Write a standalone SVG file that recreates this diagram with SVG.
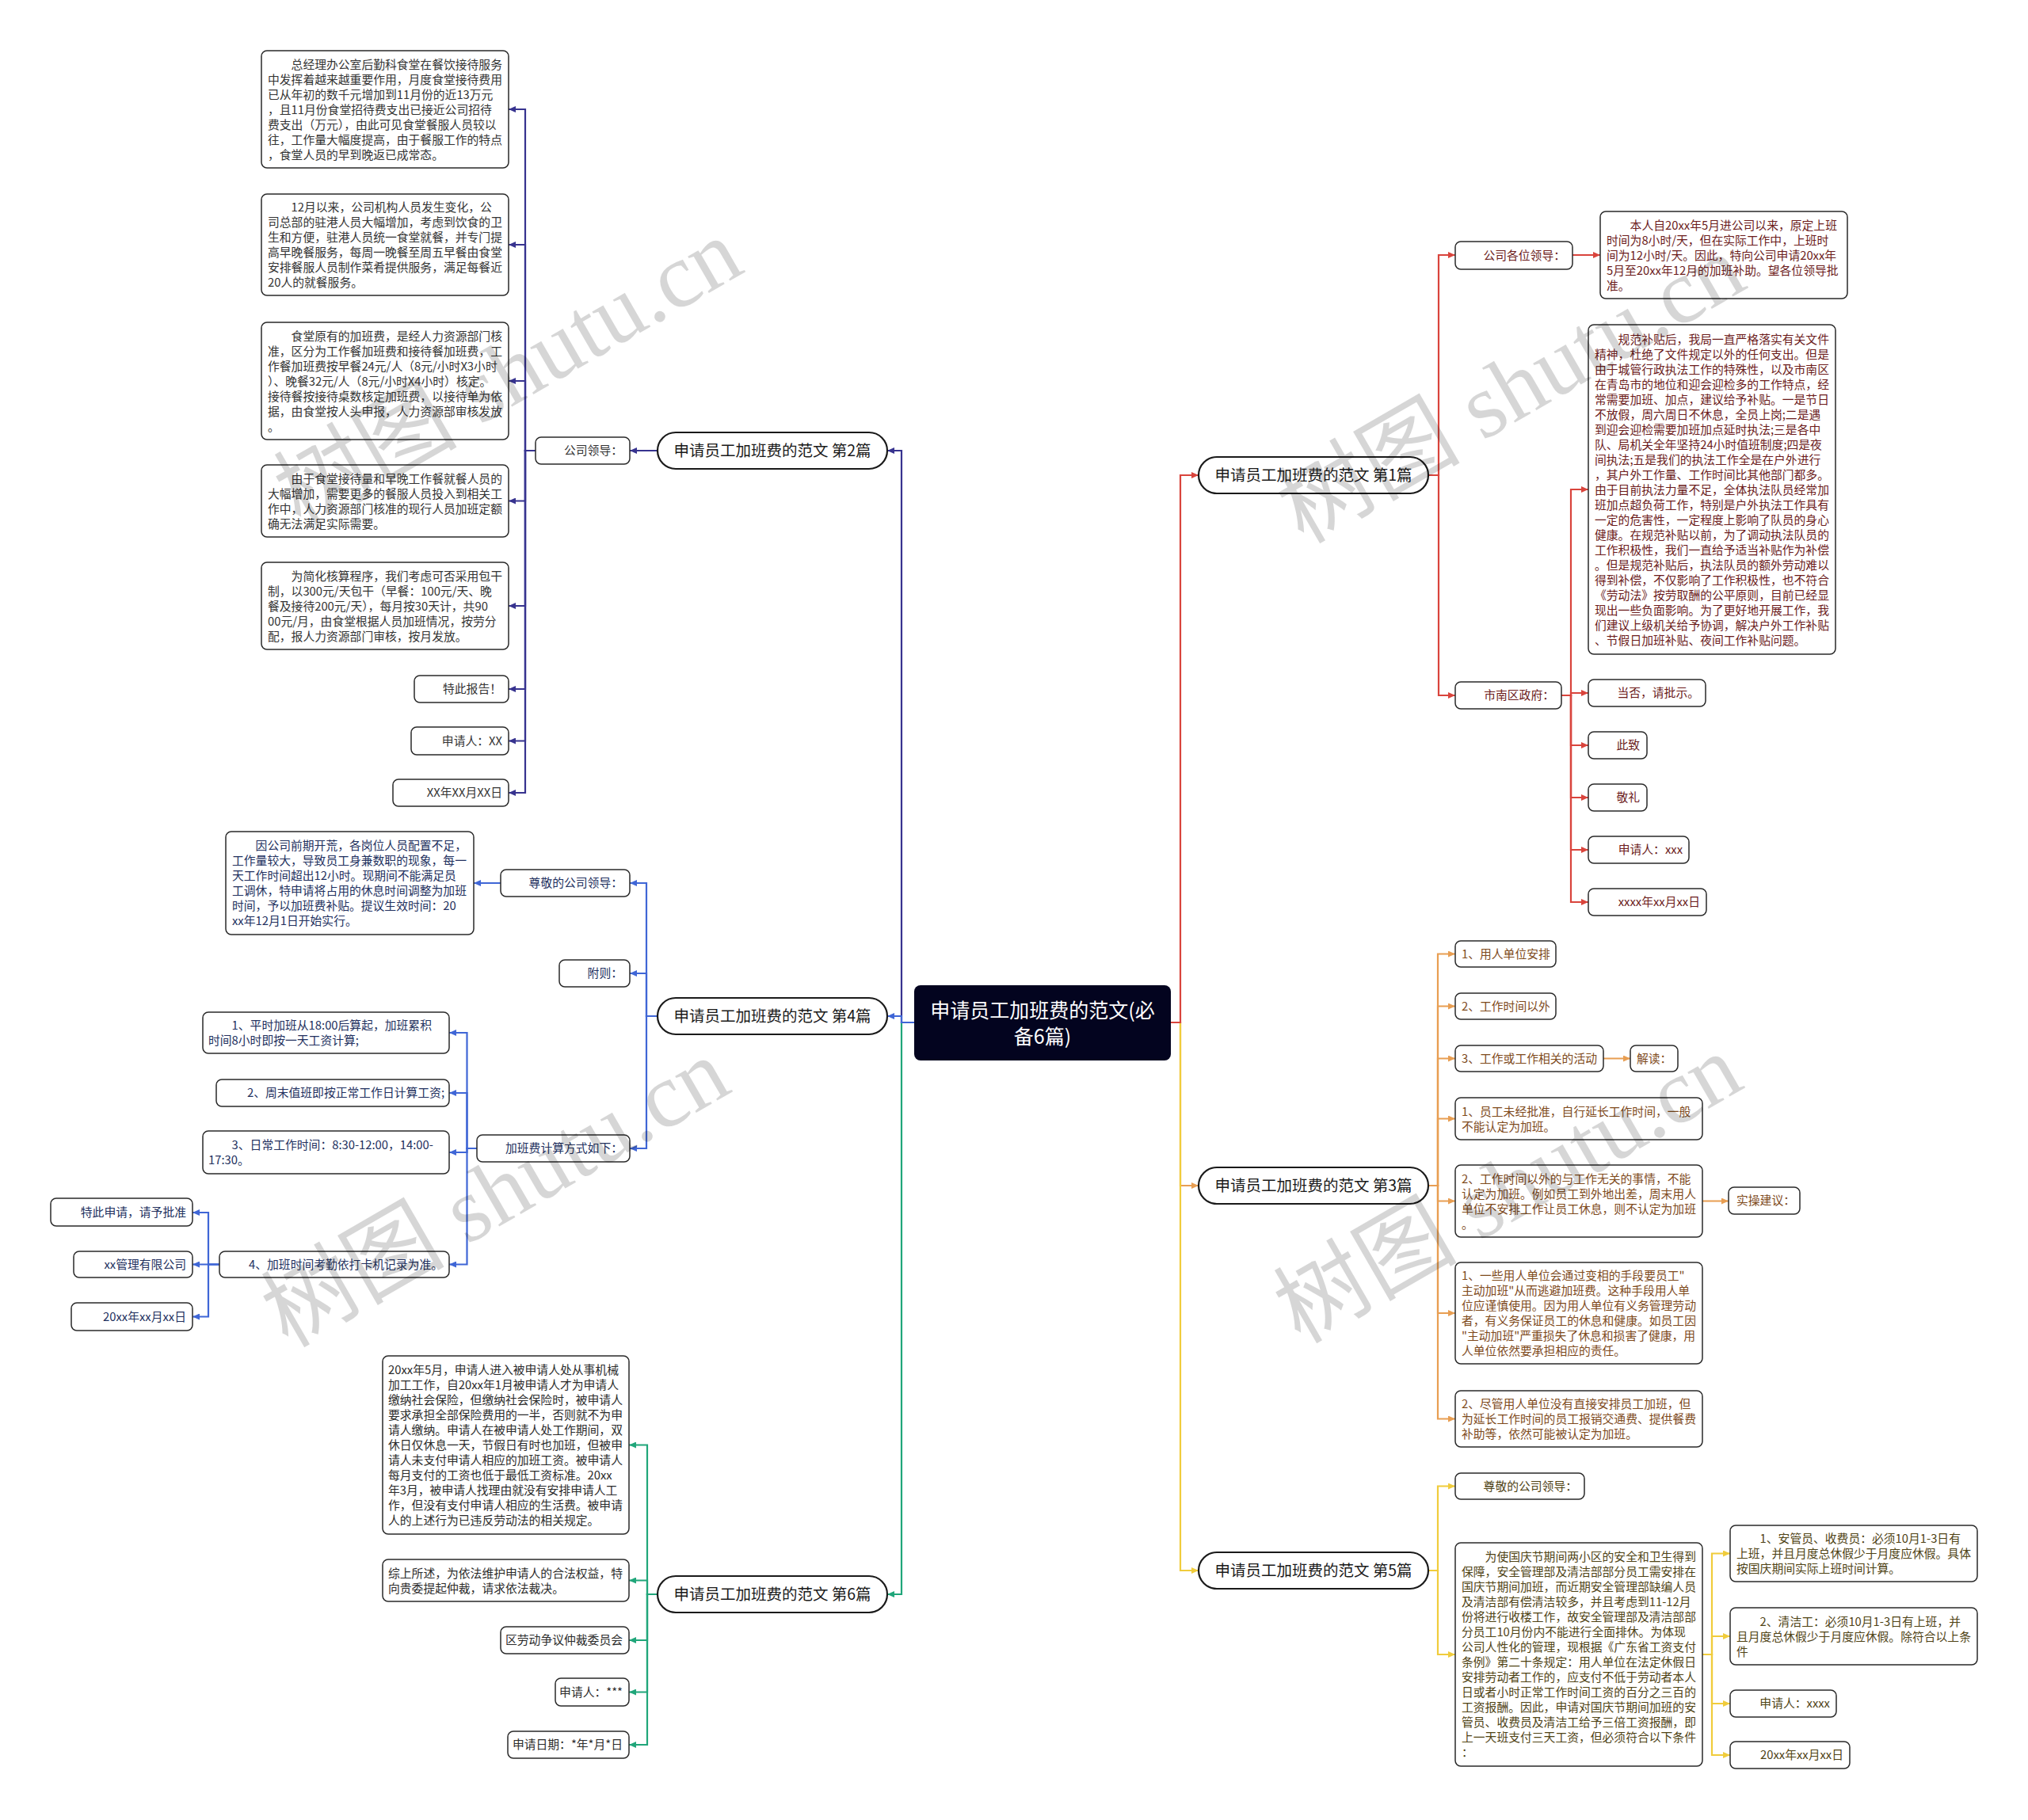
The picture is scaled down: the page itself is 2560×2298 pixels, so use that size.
<svg xmlns="http://www.w3.org/2000/svg" width="2560" height="2298" viewBox="0 0 2560 2298">
<style>
.bg{fill:#ffffff}
.box{fill:#ffffff;stroke:#2a2a2a;stroke-width:1.5}
.br{fill:#ffffff;stroke:#1a1a1a;stroke-width:2.2}
.t{font-family:"Noto Sans CJK SC","Liberation Sans",sans-serif;font-size:14.8px}
.bt{font-family:"Noto Sans CJK SC","Liberation Sans",sans-serif;font-size:19.5px;fill:#1a1a1a;text-anchor:middle}
.rt{font-family:"Noto Sans CJK SC","Liberation Sans",sans-serif;font-size:25px;fill:#ffffff;text-anchor:middle}
.e{text-anchor:end}
.c1{fill:#6b1b1b}.c2{fill:#333333}.c3{fill:#7e4a1c}.c4{fill:#22305e}.c5{fill:#4f4315}.c6{fill:#2b2b2b}
.k{fill:none;stroke-width:2.2}
.k1{stroke:#d9443c}.k2{stroke:#37338f}.k3{stroke:#e89e52}.k4{stroke:#3f66d6}.k5{stroke:#f0cc3c}.k6{stroke:#20a67a}
.wm{font-family:"Liberation Serif","Noto Sans CJK SC",serif;font-size:116px;fill:#000000;fill-opacity:0.16;text-anchor:middle}
</style>
<defs>
<marker id="a1" markerUnits="userSpaceOnUse" markerWidth="9" markerHeight="8" refX="9" refY="4" orient="auto"><path d="M0,0 L9,4 L0,8 z" fill="#d9443c"/></marker>
<marker id="a2" markerUnits="userSpaceOnUse" markerWidth="9" markerHeight="8" refX="9" refY="4" orient="auto"><path d="M0,0 L9,4 L0,8 z" fill="#37338f"/></marker>
<marker id="a3" markerUnits="userSpaceOnUse" markerWidth="9" markerHeight="8" refX="9" refY="4" orient="auto"><path d="M0,0 L9,4 L0,8 z" fill="#e89e52"/></marker>
<marker id="a4" markerUnits="userSpaceOnUse" markerWidth="9" markerHeight="8" refX="9" refY="4" orient="auto"><path d="M0,0 L9,4 L0,8 z" fill="#3f66d6"/></marker>
<marker id="a5" markerUnits="userSpaceOnUse" markerWidth="9" markerHeight="8" refX="9" refY="4" orient="auto"><path d="M0,0 L9,4 L0,8 z" fill="#f0cc3c"/></marker>
<marker id="a6" markerUnits="userSpaceOnUse" markerWidth="9" markerHeight="8" refX="9" refY="4" orient="auto"><path d="M0,0 L9,4 L0,8 z" fill="#20a67a"/></marker>
</defs>
<rect class="bg" x="0" y="0" width="2560" height="2298"/>

<g id="connectors">
<path class="k k3" marker-end="url(#a3)" d="M1478,1291 H1490 V1497 H1513"/>
<path class="k k5" marker-end="url(#a5)" d="M1478,1291 H1490 V1983 H1513"/>
<path class="k k1" marker-end="url(#a1)" d="M1478,1291 H1490 V600 H1513"/>
<path class="k k6" marker-end="url(#a6)" d="M1154,1291 H1138 V2013 H1120"/>
<path class="k k2" marker-end="url(#a2)" d="M1154,1291 H1138 V569 H1120"/>
<path class="k k4" marker-end="url(#a4)" d="M1154,1291 H1138 V1283 H1120"/>
<path class="k k1" marker-end="url(#a1)" d="M1803,600 H1816 V322 H1837"/>
<path class="k k1" marker-end="url(#a1)" d="M1803,600 H1816 V878 H1837"/>
<path class="k k1" marker-end="url(#a1)" d="M1985,322 H2020"/>
<path class="k k1" marker-end="url(#a1)" d="M1971,878 H1983 V618 H2005"/>
<path class="k k1" marker-end="url(#a1)" d="M1971,878 H1983 V875 H2005"/>
<path class="k k1" marker-end="url(#a1)" d="M1971,878 H1983 V941 H2005"/>
<path class="k k1" marker-end="url(#a1)" d="M1971,878 H1983 V1007 H2005"/>
<path class="k k1" marker-end="url(#a1)" d="M1971,878 H1983 V1073 H2005"/>
<path class="k k1" marker-end="url(#a1)" d="M1971,878 H1983 V1139 H2005"/>
<path class="k k3" marker-end="url(#a3)" d="M1803,1497 H1815 V1204.5 H1837"/>
<path class="k k3" marker-end="url(#a3)" d="M1803,1497 H1815 V1270.5 H1837"/>
<path class="k k3" marker-end="url(#a3)" d="M1803,1497 H1815 V1336.5 H1837"/>
<path class="k k3" marker-end="url(#a3)" d="M1803,1497 H1815 V1412.5 H1837"/>
<path class="k k3" marker-end="url(#a3)" d="M1803,1497 H1815 V1516.5 H1837"/>
<path class="k k3" marker-end="url(#a3)" d="M1803,1497 H1815 V1658 H1837"/>
<path class="k k3" marker-end="url(#a3)" d="M1803,1497 H1815 V1791.5 H1837"/>
<path class="k k3" marker-end="url(#a3)" d="M2024,1336.5 H2058"/>
<path class="k k3" marker-end="url(#a3)" d="M2149,1516.5 H2182"/>
<path class="k k5" marker-end="url(#a5)" d="M1803,1983 H1815 V1876.5 H1837"/>
<path class="k k5" marker-end="url(#a5)" d="M1803,1983 H1815 V2089 H1837"/>
<path class="k k5" marker-end="url(#a5)" d="M2149,2089 H2161 V1961.5 H2184"/>
<path class="k k5" marker-end="url(#a5)" d="M2149,2089 H2161 V2066 H2184"/>
<path class="k k5" marker-end="url(#a5)" d="M2149,2089 H2161 V2151 H2184"/>
<path class="k k5" marker-end="url(#a5)" d="M2149,2089 H2161 V2216 H2184"/>
<path class="k k2" marker-end="url(#a2)" d="M830,569 H795"/>
<path class="k k2" marker-end="url(#a2)" d="M676,569 H663 V138 H642"/>
<path class="k k2" marker-end="url(#a2)" d="M676,569 H663 V309 H642"/>
<path class="k k2" marker-end="url(#a2)" d="M676,569 H663 V481 H642"/>
<path class="k k2" marker-end="url(#a2)" d="M676,569 H663 V632.5 H642"/>
<path class="k k2" marker-end="url(#a2)" d="M676,569 H663 V765 H642"/>
<path class="k k2" marker-end="url(#a2)" d="M676,569 H663 V870 H642"/>
<path class="k k2" marker-end="url(#a2)" d="M676,569 H663 V935.5 H642"/>
<path class="k k2" marker-end="url(#a2)" d="M676,569 H663 V1001 H642"/>
<path class="k k4" marker-end="url(#a4)" d="M830,1283 H816 V1115 H795"/>
<path class="k k4" marker-end="url(#a4)" d="M830,1283 H816 V1229 H795"/>
<path class="k k4" marker-end="url(#a4)" d="M830,1283 H816 V1450 H795"/>
<path class="k k4" marker-end="url(#a4)" d="M632,1115 H598"/>
<path class="k k4" marker-end="url(#a4)" d="M602,1450 H589.5 V1304 H567"/>
<path class="k k4" marker-end="url(#a4)" d="M602,1450 H589.5 V1380 H567"/>
<path class="k k4" marker-end="url(#a4)" d="M602,1450 H589.5 V1455 H567"/>
<path class="k k4" marker-end="url(#a4)" d="M602,1450 H589.5 V1596.5 H567"/>
<path class="k k4" marker-end="url(#a4)" d="M277,1596.5 H263 V1531 H243"/>
<path class="k k4" marker-end="url(#a4)" d="M277,1596.5 H263 V1596.5 H243"/>
<path class="k k4" marker-end="url(#a4)" d="M277,1596.5 H263 V1662.5 H243"/>
<path class="k k6" marker-end="url(#a6)" d="M830,2013 H817 V1824.5 H794"/>
<path class="k k6" marker-end="url(#a6)" d="M830,2013 H817 V1995.5 H794"/>
<path class="k k6" marker-end="url(#a6)" d="M830,2013 H817 V2071 H794"/>
<path class="k k6" marker-end="url(#a6)" d="M830,2013 H817 V2136.5 H794"/>
<path class="k k6" marker-end="url(#a6)" d="M830,2013 H817 V2203 H794"/>
</g>

<g id="root">
<rect x="1154" y="1244" width="324" height="95" rx="8" fill="#03041f"/>
<text class="rt" x="1316" y="1285">申请员工加班费的范文(必</text>
<text class="rt" x="1316" y="1318">备6篇)</text>
</g>

<g id="branch1"><rect class="br" x="1513" y="577" width="290" height="46" rx="23"/><text class="bt" x="1658" y="607">申请员工加班费的范文 第1篇</text></g>
<g id="branch3"><rect class="br" x="1513" y="1474" width="290" height="46" rx="23"/><text class="bt" x="1658" y="1504">申请员工加班费的范文 第3篇</text></g>
<g id="branch5"><rect class="br" x="1513" y="1960" width="290" height="46" rx="23"/><text class="bt" x="1658" y="1990">申请员工加班费的范文 第5篇</text></g>
<g id="branch2"><rect class="br" x="830" y="546" width="290" height="46" rx="23"/><text class="bt" x="975" y="576">申请员工加班费的范文 第2篇</text></g>
<g id="branch4"><rect class="br" x="830" y="1260" width="290" height="46" rx="23"/><text class="bt" x="975" y="1290">申请员工加班费的范文 第4篇</text></g>
<g id="branch6"><rect class="br" x="830" y="1990" width="290" height="46" rx="23"/><text class="bt" x="975" y="2020">申请员工加班费的范文 第6篇</text></g>

<g id="n2-lead"><rect class="box" x="676" y="552" width="119" height="34" rx="7"/><text class="t c2 e" x="786" y="574">公司领导：</text></g>
<g id="n2-1"><rect class="box" x="330" y="64" width="312" height="148" rx="7"/>
<text class="t c2" x="338" y="86.5">　　总经理办公室后勤科食堂在餐饮接待服务</text>
<text class="t c2" x="338" y="105.5">中发挥着越来越重要作用，月度食堂接待费用</text>
<text class="t c2" x="338" y="124.5">已从年初的数千元增加到11月份的近13万元</text>
<text class="t c2" x="338" y="143.5">，且11月份食堂招待费支出已接近公司招待</text>
<text class="t c2" x="338" y="162.5">费支出（万元），由此可见食堂餐服人员较以</text>
<text class="t c2" x="338" y="181.5">往，工作量大幅度提高，由于餐服工作的特点</text>
<text class="t c2" x="338" y="200.5">，食堂人员的早到晚返已成常态。</text></g>
<g id="n2-2"><rect class="box" x="330" y="245" width="312" height="128" rx="7"/>
<text class="t c2" x="338" y="267">　　12月以来，公司机构人员发生变化，公</text>
<text class="t c2" x="338" y="286">司总部的驻港人员大幅增加，考虑到饮食的卫</text>
<text class="t c2" x="338" y="305">生和方便，驻港人员统一食堂就餐，并专门提</text>
<text class="t c2" x="338" y="324">高早晚餐服务，每周一晚餐至周五早餐由食堂</text>
<text class="t c2" x="338" y="343">安排餐服人员制作菜肴提供服务，满足每餐近</text>
<text class="t c2" x="338" y="362">20人的就餐服务。</text></g>
<g id="n2-3"><rect class="box" x="330" y="407" width="312" height="148" rx="7"/>
<text class="t c2" x="338" y="429.5">　　食堂原有的加班费，是经人力资源部门核</text>
<text class="t c2" x="338" y="448.5">准，区分为工作餐加班费和接待餐加班费，工</text>
<text class="t c2" x="338" y="467.5">作餐加班费按早餐24元/人（8元/小时X3小时</text>
<text class="t c2" x="338" y="486.5">）、晚餐32元/人（8元/小时X4小时）核定。</text>
<text class="t c2" x="338" y="505.5">接待餐按接待桌数核定加班费，以接待单为依</text>
<text class="t c2" x="338" y="524.5">据，由食堂按人头申报，人力资源部审核发放</text>
<text class="t c2" x="338" y="543.5">。</text></g>
<g id="n2-4"><rect class="box" x="330" y="587" width="312" height="91" rx="7"/>
<text class="t c2" x="338" y="609.5">　　由于食堂接待量和早晚工作餐就餐人员的</text>
<text class="t c2" x="338" y="628.5">大幅增加，需要更多的餐服人员投入到相关工</text>
<text class="t c2" x="338" y="647.5">作中，人力资源部门核准的现行人员加班定额</text>
<text class="t c2" x="338" y="666.5">确无法满足实际需要。</text></g>
<g id="n2-5"><rect class="box" x="330" y="710" width="312" height="110" rx="7"/>
<text class="t c2" x="338" y="732.5">　　为简化核算程序，我们考虑可否采用包干</text>
<text class="t c2" x="338" y="751.5">制，以300元/天包干（早餐：100元/天、晚</text>
<text class="t c2" x="338" y="770.5">餐及接待200元/天），每月按30天计，共90</text>
<text class="t c2" x="338" y="789.5">00元/月，由食堂根据人员加班情况，按劳分</text>
<text class="t c2" x="338" y="808.5">配，报人力资源部门审核，按月发放。</text></g>
<g id="n2-6"><rect class="box" x="523" y="853" width="119" height="34" rx="7"/><text class="t c2 e" x="633" y="875">特此报告！</text></g>
<g id="n2-7"><rect class="box" x="519" y="918" width="123" height="35" rx="7"/><text class="t c2 e" x="634" y="940.5">申请人：XX</text></g>
<g id="n2-8"><rect class="box" x="496" y="984" width="146" height="34" rx="7"/><text class="t c2 e" x="634" y="1006">XX年XX月XX日</text></g>

<g id="n4-lead"><rect class="box" x="632" y="1098" width="163" height="34" rx="7"/><text class="t c4 e" x="786" y="1120">尊敬的公司领导：</text></g>
<g id="n4-text"><rect class="box" x="285" y="1050" width="313" height="130" rx="7"/>
<text class="t c4" x="293" y="1073">　　因公司前期开荒，各岗位人员配置不足，</text>
<text class="t c4" x="293" y="1092">工作量较大，导致员工身兼数职的现象，每一</text>
<text class="t c4" x="293" y="1111">天工作时间超出12小时。现期间不能满足员</text>
<text class="t c4" x="293" y="1130">工调休，特申请将占用的休息时间调整为加班</text>
<text class="t c4" x="293" y="1149">时间，予以加班费补贴。提议生效时间：20</text>
<text class="t c4" x="293" y="1168">xx年12月1日开始实行。</text></g>
<g id="n4-fz"><rect class="box" x="706" y="1212" width="89" height="34" rx="7"/><text class="t c4 e" x="786" y="1234">附则：</text></g>
<g id="n4-calc"><rect class="box" x="602" y="1433" width="193" height="34" rx="7"/><text class="t c4 e" x="786" y="1455">加班费计算方式如下：</text></g>
<g id="n4-c1"><rect class="box" x="256" y="1278" width="311" height="52" rx="7"/>
<text class="t c4" x="263" y="1300">　　1、平时加班从18:00后算起，加班累积</text>
<text class="t c4" x="263" y="1319">时间8小时即按一天工资计算;</text></g>
<g id="n4-c2"><rect class="box" x="273" y="1363" width="294" height="34" rx="7"/><text class="t c4 e" x="561" y="1385">2、周末值班即按正常工作日计算工资;</text></g>
<g id="n4-c3"><rect class="box" x="256" y="1428" width="311" height="54" rx="7"/>
<text class="t c4" x="263" y="1451">　　3、日常工作时间：8:30-12:00，14:00-</text>
<text class="t c4" x="263" y="1470">17:30。</text></g>
<g id="n4-c4"><rect class="box" x="277" y="1580" width="290" height="33" rx="7"/><text class="t c4 e" x="559" y="1601.5">4、加班时间考勤依打卡机记录为准。</text></g>
<g id="n4-d1"><rect class="box" x="64" y="1513" width="179" height="35" rx="7"/><text class="t c4 e" x="235" y="1536">特此申请，请予批准</text></g>
<g id="n4-d2"><rect class="box" x="93" y="1580" width="150" height="33" rx="7"/><text class="t c4 e" x="235" y="1601.5">xx管理有限公司</text></g>
<g id="n4-d3"><rect class="box" x="90" y="1645" width="153" height="35" rx="7"/><text class="t c4 e" x="235" y="1667.5">20xx年xx月xx日</text></g>

<g id="n6-1"><rect class="box" x="483" y="1712" width="311" height="225" rx="7"/>
<text class="t c6" x="490" y="1735">20xx年5月，申请人进入被申请人处从事机械</text>
<text class="t c6" x="490" y="1754">加工工作，自20xx年1月被申请人才为申请人</text>
<text class="t c6" x="490" y="1773">缴纳社会保险，但缴纳社会保险时，被申请人</text>
<text class="t c6" x="490" y="1792">要求承担全部保险费用的一半，否则就不为申</text>
<text class="t c6" x="490" y="1811">请人缴纳。申请人在被申请人处工作期间，双</text>
<text class="t c6" x="490" y="1830">休日仅休息一天，节假日有时也加班，但被申</text>
<text class="t c6" x="490" y="1849">请人未支付申请人相应的加班工资。被申请人</text>
<text class="t c6" x="490" y="1868">每月支付的工资也低于最低工资标准。20xx</text>
<text class="t c6" x="490" y="1887">年3月，被申请人找理由就没有安排申请人工</text>
<text class="t c6" x="490" y="1906">作，但没有支付申请人相应的生活费。被申请</text>
<text class="t c6" x="490" y="1925">人的上述行为已违反劳动法的相关规定。</text></g>
<g id="n6-2"><rect class="box" x="483" y="1969" width="311" height="53" rx="7"/>
<text class="t c6" x="490" y="1991.5">综上所述，为依法维护申请人的合法权益，特</text>
<text class="t c6" x="490" y="2010.5">向贵委提起仲裁，请求依法裁决。</text></g>
<g id="n6-3"><rect class="box" x="632" y="2054" width="162" height="34" rx="7"/><text class="t c6 e" x="786" y="2076">区劳动争议仲裁委员会</text></g>
<g id="n6-4"><rect class="box" x="701" y="2119" width="93" height="35" rx="7"/><text class="t c6 e" x="786" y="2141.5">申请人：***</text></g>
<g id="n6-5"><rect class="box" x="641" y="2186" width="153" height="34" rx="7"/><text class="t c6 e" x="786" y="2208">申请日期：*年*月*日</text></g>

<g id="n1-lead"><rect class="box" x="1837" y="305" width="148" height="35" rx="7"/><text class="t c1 e" x="1976" y="327.5">公司各位领导：</text></g>
<g id="n1-text"><rect class="box" x="2020" y="267" width="312" height="110" rx="7"/>
<text class="t c1" x="2028" y="289.5">　　本人自20xx年5月进公司以来，原定上班</text>
<text class="t c1" x="2028" y="308.5">时间为8小时/天，但在实际工作中，上班时</text>
<text class="t c1" x="2028" y="327.5">间为12小时/天。因此，特向公司申请20xx年</text>
<text class="t c1" x="2028" y="346.5">5月至20xx年12月的加班补助。望各位领导批</text>
<text class="t c1" x="2028" y="365.5">准。</text></g>
<g id="n1-gov"><rect class="box" x="1837" y="861" width="134" height="34" rx="7"/><text class="t c1 e" x="1962" y="883">市南区政府：</text></g>
<g id="n1-big"><rect class="box" x="2005" y="410" width="312" height="416" rx="7"/>
<text class="t c1" x="2013" y="433.5">　　规范补贴后，我局一直严格落实有关文件</text>
<text class="t c1" x="2013" y="452.5">精神，杜绝了文件规定以外的任何支出。但是</text>
<text class="t c1" x="2013" y="471.5">由于城管行政执法工作的特殊性，以及市南区</text>
<text class="t c1" x="2013" y="490.5">在青岛市的地位和迎会迎检多的工作特点，经</text>
<text class="t c1" x="2013" y="509.5">常需要加班、加点，建议给予补贴。一是节日</text>
<text class="t c1" x="2013" y="528.5">不放假，周六周日不休息，全员上岗;二是遇</text>
<text class="t c1" x="2013" y="547.5">到迎会迎检需要加班加点延时执法;三是各中</text>
<text class="t c1" x="2013" y="566.5">队、局机关全年坚持24小时值班制度;四是夜</text>
<text class="t c1" x="2013" y="585.5">间执法;五是我们的执法工作全是在户外进行</text>
<text class="t c1" x="2013" y="604.5">，其户外工作量、工作时间比其他部门都多。</text>
<text class="t c1" x="2013" y="623.5">由于目前执法力量不足，全体执法队员经常加</text>
<text class="t c1" x="2013" y="642.5">班加点超负荷工作，特别是户外执法工作具有</text>
<text class="t c1" x="2013" y="661.5">一定的危害性，一定程度上影响了队员的身心</text>
<text class="t c1" x="2013" y="680.5">健康。在规范补贴以前，为了调动执法队员的</text>
<text class="t c1" x="2013" y="699.5">工作积极性，我们一直给予适当补贴作为补偿</text>
<text class="t c1" x="2013" y="718.5">。但是规范补贴后，执法队员的额外劳动难以</text>
<text class="t c1" x="2013" y="737.5">得到补偿，不仅影响了工作积极性，也不符合</text>
<text class="t c1" x="2013" y="756.5">《劳动法》按劳取酬的公平原则，目前已经显</text>
<text class="t c1" x="2013" y="775.5">现出一些负面影响。为了更好地开展工作，我</text>
<text class="t c1" x="2013" y="794.5">们建议上级机关给予协调，解决户外工作补贴</text>
<text class="t c1" x="2013" y="813.5">、节假日加班补贴、夜间工作补贴问题。</text></g>
<g id="n1-c1"><rect class="box" x="2005" y="858" width="148" height="34" rx="7"/><text class="t c1 e" x="2145" y="880">当否，请批示。</text></g>
<g id="n1-c2"><rect class="box" x="2005" y="924" width="74" height="34" rx="7"/><text class="t c1 e" x="2070" y="946">此致</text></g>
<g id="n1-c3"><rect class="box" x="2005" y="990" width="74" height="34" rx="7"/><text class="t c1 e" x="2070" y="1012">敬礼</text></g>
<g id="n1-c4"><rect class="box" x="2005" y="1056" width="127" height="34" rx="7"/><text class="t c1 e" x="2124" y="1078">申请人：xxx</text></g>
<g id="n1-c5"><rect class="box" x="2005" y="1122" width="149" height="34" rx="7"/><text class="t c1 e" x="2146" y="1144">xxxx年xx月xx日</text></g>

<g id="n3-1"><rect class="box" x="1837" y="1188" width="127" height="33" rx="7"/><text class="t c3" x="1845" y="1209.5">1、用人单位安排</text></g>
<g id="n3-2"><rect class="box" x="1837" y="1254" width="127" height="33" rx="7"/><text class="t c3" x="1845" y="1275.5">2、工作时间以外</text></g>
<g id="n3-3"><rect class="box" x="1837" y="1320" width="187" height="33" rx="7"/><text class="t c3" x="1845" y="1341.5">3、工作或工作相关的活动</text></g>
<g id="n3-jd"><rect class="box" x="2058" y="1320" width="60" height="33" rx="7"/><text class="t c3" x="2066" y="1341.5">解读：</text></g>
<g id="n3-4"><rect class="box" x="1837" y="1386" width="312" height="53" rx="7"/>
<text class="t c3" x="1845" y="1408.5">1、员工未经批准，自行延长工作时间，一般</text>
<text class="t c3" x="1845" y="1427.5">不能认定为加班。</text></g>
<g id="n3-5"><rect class="box" x="1837" y="1471" width="312" height="91" rx="7"/>
<text class="t c3" x="1845" y="1493.5">2、工作时间以外的与工作无关的事情，不能</text>
<text class="t c3" x="1845" y="1512.5">认定为加班。例如员工到外地出差，周末用人</text>
<text class="t c3" x="1845" y="1531.5">单位不安排工作让员工休息，则不认定为加班</text>
<text class="t c3" x="1845" y="1550.5">。</text></g>
<g id="n3-ss"><rect class="box" x="2182" y="1499" width="90" height="34" rx="7"/><text class="t c3" x="2192" y="1521">实操建议：</text></g>
<g id="n3-6"><rect class="box" x="1837" y="1594" width="312" height="128" rx="7"/>
<text class="t c3" x="1845" y="1616">1、一些用人单位会通过变相的手段要员工"</text>
<text class="t c3" x="1845" y="1635">主动加班"从而逃避加班费。这种手段用人单</text>
<text class="t c3" x="1845" y="1654">位应谨慎使用。因为用人单位有义务管理劳动</text>
<text class="t c3" x="1845" y="1673">者，有义务保证员工的休息和健康。如员工因</text>
<text class="t c3" x="1845" y="1692">"主动加班"严重损失了休息和损害了健康，用</text>
<text class="t c3" x="1845" y="1711">人单位依然要承担相应的责任。</text></g>
<g id="n3-7"><rect class="box" x="1837" y="1756" width="312" height="71" rx="7"/>
<text class="t c3" x="1845" y="1778">2、尽管用人单位没有直接安排员工加班，但</text>
<text class="t c3" x="1845" y="1797">为延长工作时间的员工报销交通费、提供餐费</text>
<text class="t c3" x="1845" y="1816">补助等，依然可能被认定为加班。</text></g>

<g id="n5-lead"><rect class="box" x="1837" y="1860" width="163" height="33" rx="7"/><text class="t c5 e" x="1991" y="1881.5">尊敬的公司领导：</text></g>
<g id="n5-big"><rect class="box" x="1837" y="1948" width="312" height="282" rx="7"/>
<text class="t c5" x="1845" y="1971">　　为使国庆节期间两小区的安全和卫生得到</text>
<text class="t c5" x="1845" y="1990">保障，安全管理部及清洁部部分员工需安排在</text>
<text class="t c5" x="1845" y="2009">国庆节期间加班，而近期安全管理部缺编人员</text>
<text class="t c5" x="1845" y="2028">及清洁部有偿清洁较多，并且考虑到11-12月</text>
<text class="t c5" x="1845" y="2047">份将进行收楼工作，故安全管理部及清洁部部</text>
<text class="t c5" x="1845" y="2066">分员工10月份内不能进行全面排休。为体现</text>
<text class="t c5" x="1845" y="2085">公司人性化的管理，现根据《广东省工资支付</text>
<text class="t c5" x="1845" y="2104">条例》第二十条规定：用人单位在法定休假日</text>
<text class="t c5" x="1845" y="2123">安排劳动者工作的，应支付不低于劳动者本人</text>
<text class="t c5" x="1845" y="2142">日或者小时正常工作时间工资的百分之三百的</text>
<text class="t c5" x="1845" y="2161">工资报酬。因此，申请对国庆节期间加班的安</text>
<text class="t c5" x="1845" y="2180">管员、收费员及清洁工给予三倍工资报酬，即</text>
<text class="t c5" x="1845" y="2199">上一天班支付三天工资，但必须符合以下条件</text>
<text class="t c5" x="1845" y="2218">：</text></g>
<g id="n5-c1"><rect class="box" x="2184" y="1926" width="312" height="71" rx="7"/>
<text class="t c5" x="2192" y="1948">　　1、安管员、收费员：必须10月1-3日有</text>
<text class="t c5" x="2192" y="1967">上班，并且月度总休假少于月度应休假。具体</text>
<text class="t c5" x="2192" y="1986">按国庆期间实际上班时间计算。</text></g>
<g id="n5-c2"><rect class="box" x="2184" y="2030" width="312" height="72" rx="7"/>
<text class="t c5" x="2192" y="2052.5">　　2、清洁工：必须10月1-3日有上班，并</text>
<text class="t c5" x="2192" y="2071.5">且月度总休假少于月度应休假。除符合以上条</text>
<text class="t c5" x="2192" y="2090.5">件</text></g>
<g id="n5-c3"><rect class="box" x="2184" y="2134" width="134" height="34" rx="7"/><text class="t c5 e" x="2310" y="2156">申请人：xxxx</text></g>
<g id="n5-c4"><rect class="box" x="2184" y="2199" width="151" height="34" rx="7"/><text class="t c5 e" x="2327" y="2221">20xx年xx月xx日</text></g>

<g id="watermarks">
<text class="wm" transform="translate(661,505) rotate(-30)">树图 shutu.cn</text>
<text class="wm" transform="translate(645,1540) rotate(-30)">树图 shutu.cn</text>
<text class="wm" transform="translate(1927,525) rotate(-30)">树图 shutu.cn</text>
<text class="wm" transform="translate(1923,1535) rotate(-30)">树图 shutu.cn</text>
</g>
</svg>
